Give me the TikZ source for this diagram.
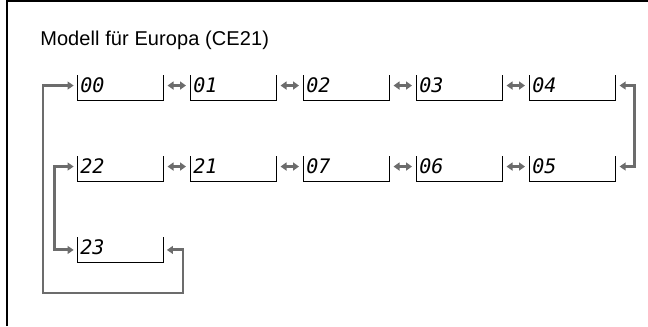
\documentclass[tikz,border=0pt]{standalone}
\usepackage{fontspec}
\setmainfont{Liberation Sans}
\newfontfamily\titlefont[LetterSpace=0.5]{Liberation Sans}
\newfontfamily\segfont{DejaVu Sans Mono}
\usetikzlibrary{arrows.meta}
\definecolor{linkgray}{RGB}{108,108,108}
\tikzset{
  display/.style={anchor=north west, minimum width=64.5pt, minimum height=16.5pt, text width=60pt, inner sep=2.25pt, text height=10.5pt, text depth=4pt, align=left, font=\segfont\itshape\fontsize{15pt}{15pt}\selectfont},
  segline/.style={line width=0.75pt, black},
  pairarrow/.style={{Triangle[length=4.5pt,width=6pt]}-{Triangle[length=4.5pt,width=6pt]}, line width=1.6pt, linkgray},
  looparrow/.style={{Triangle[length=4.5pt,width=5.8pt]}-{Triangle[length=4.5pt,width=5.8pt]}, line width=2.2pt, linkgray}
}

\begin{document}
\begin{tikzpicture}[x=0.75pt,y=-0.75pt]
  \useasboundingbox (0,0) rectangle (648,326);
  % frame
  \draw[line width=1.1pt] (7,326) -- (7,1.2) -- (648,1.2);
  \node[anchor=base west, inner sep=0pt, font=\titlefont\fontsize{15pt}{17pt}\selectfont] (title) at (40,45) {Modell für Europa (CE21)};
  % displays
  \foreach \lbl [count=\i from 0] in {00,01,02,03,04}
    \node[display] (d\lbl) at (77+113*\i,75) {\lbl};
  \foreach \lbl [count=\i from 0] in {22,21,07,06,05}
    \node[display] (d\lbl) at (77+113*\i,156) {\lbl};
  \node[display] (d23) at (77,237) {23};
  \foreach \n in {00,01,02,03,04,22,21,07,06,05,23}
    \draw[segline] (d\n.north west) |- (d\n.south east) -- (d\n.north east);
  % steps between displays
  \foreach \a/\b in {00/01,01/02,02/03,03/04,22/21,21/07,07/06,06/05}
    \draw[pairarrow] ([shift={(3pt,1.8pt)}]d\a.east) -- ([shift={(-3pt,1.8pt)}]d\b.west);
  % loops
  \coordinate (loopbl) at (43,293);
  \coordinate (loopbr) at (183,293);
  \draw[looparrow] ([shift={(3pt,1.8pt)}]d04.east) -- ++(11.25pt,0) |- ([shift={(3pt,1.8pt)}]d05.east);
  \draw[looparrow] ([shift={(-2.5pt,1.8pt)}]d22.west) -- ++(-14.5pt,0) |- ([shift={(-2.5pt,0pt)}]d23.west);
  \draw[looparrow] ([shift={(-2.5pt,1.8pt)}]d00.west) -| (loopbl) -- (loopbr) |- ([shift={(2.5pt,0pt)}]d23.east);
\end{tikzpicture}
\end{document}
